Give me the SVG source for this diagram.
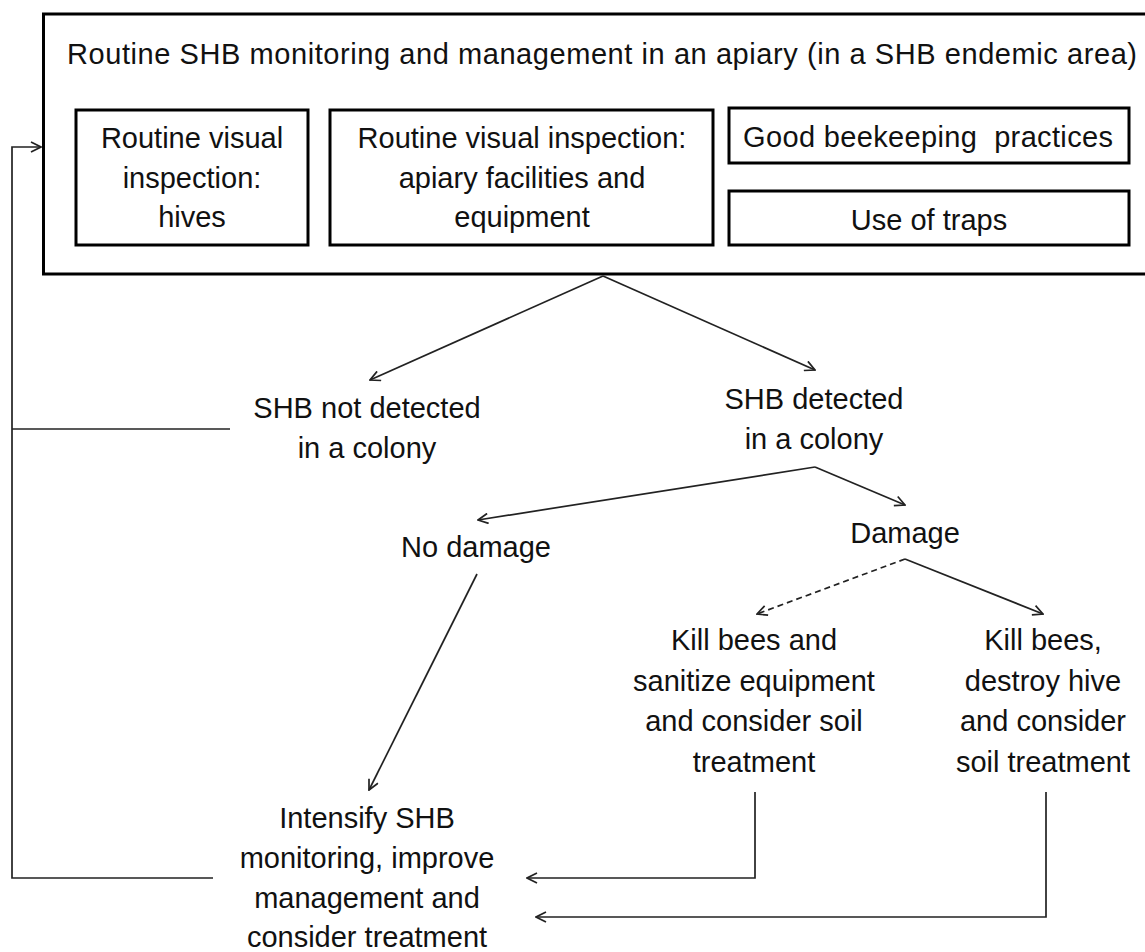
<svg xmlns="http://www.w3.org/2000/svg" width="1145" height="952" viewBox="0 0 1145 952">
<style>
text{font-family:"Liberation Sans",Arial,sans-serif;font-size:29px;fill:#111;text-anchor:middle}
.box{fill:none;stroke:#000;stroke-width:3}
.c{fill:none;stroke:#222;stroke-width:1.7}
.d{stroke-dasharray:6 4}
</style>
<defs>
<marker id="ah" viewBox="0 0 12 12" refX="11" refY="6" markerWidth="12" markerHeight="12" markerUnits="userSpaceOnUse" orient="auto">
<path d="M1,1 L11,6 L1,11" fill="none" stroke="#222" stroke-width="1.7"/>
</marker>
</defs>
<rect width="1145" height="952" fill="#fff"/>
<g id="main">
<rect class="box" x="43.5" y="14" width="1110" height="260"/>
<text x="67" y="64" style="text-anchor:start" textLength="1070" lengthAdjust="spacing">Routine SHB monitoring and management in an apiary (in a SHB endemic area)</text>
</g>
<g id="hives">
<rect class="box" x="76" y="110" width="232" height="135"/>
<text x="192" y="148">Routine visual</text>
<text x="192" y="188">inspection:</text>
<text x="192" y="227">hives</text>
</g>
<g id="facilities">
<rect class="box" x="330" y="110" width="383" height="135"/>
<text x="522" y="148">Routine visual inspection:</text>
<text x="522" y="188">apiary facilities and</text>
<text x="522" y="227">equipment</text>
</g>
<g id="practices">
<rect class="box" x="729" y="108" width="400" height="55"/>
<text x="743" y="147" style="text-anchor:start" textLength="370" lengthAdjust="spacing">Good beekeeping&#160; practices</text>
</g>
<g id="traps">
<rect class="box" x="729" y="191" width="400" height="54"/>
<text x="929" y="230">Use of traps</text>
</g>
<g id="notdetected">
<text x="367" y="418">SHB not detected</text>
<text x="367" y="458">in a colony</text>
</g>
<g id="detected">
<text x="814" y="409">SHB detected</text>
<text x="814" y="449">in a colony</text>
</g>
<g id="nodamage">
<text x="476" y="557">No damage</text>
</g>
<g id="damage">
<text x="905" y="543">Damage</text>
</g>
<g id="sanitize">
<text x="754" y="650">Kill bees and</text>
<text x="754" y="691">sanitize equipment</text>
<text x="754" y="731">and consider soil</text>
<text x="754" y="772">treatment</text>
</g>
<g id="destroy">
<text x="1043" y="650">Kill bees,</text>
<text x="1043" y="691">destroy hive</text>
<text x="1043" y="731">and consider</text>
<text x="1043" y="772">soil treatment</text>
</g>
<g id="intensify">
<text x="367" y="828">Intensify SHB</text>
<text x="367" y="868">monitoring, improve</text>
<text x="367" y="908">management and</text>
<text x="367" y="947">consider treatment</text>
</g>
<g id="connectors">
<path class="c" d="M603,276 L370,380" marker-end="url(#ah)"/>
<path class="c" d="M603,276 L815,370" marker-end="url(#ah)"/>
<path class="c" d="M815,467 L478,520" marker-end="url(#ah)"/>
<path class="c" d="M815,467 L905,505" marker-end="url(#ah)"/>
<path class="c d" d="M905,559 L757,614" marker-end="url(#ah)"/>
<path class="c" d="M905,559 L1043,614" marker-end="url(#ah)"/>
<path class="c" d="M477,574 L369,790" marker-end="url(#ah)"/>
<path class="c" d="M755,792 V878 H527" marker-end="url(#ah)"/>
<path class="c" d="M1046,792 V917 H536" marker-end="url(#ah)"/>
<path class="c" d="M213,878 H12 V147 H41" marker-end="url(#ah)"/>
<path class="c" d="M230,429 H12"/>
</g>
</svg>
